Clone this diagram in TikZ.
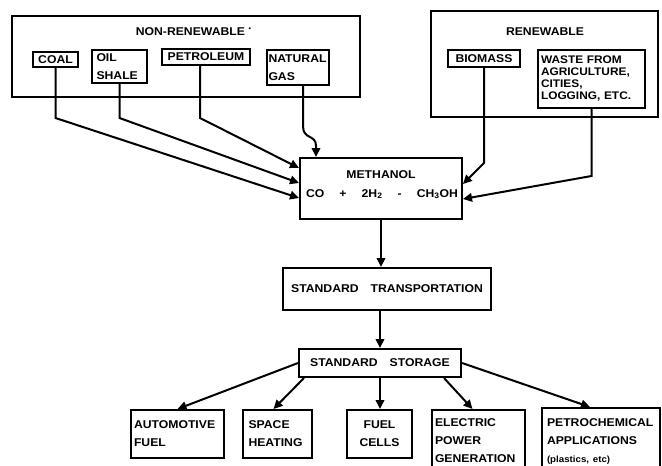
\documentclass[tikz,border=0pt]{standalone}
\usepackage{fontspec}
\setmainfont[FakeStretch=1.08]{Liberation Sans}
\usetikzlibrary{arrows.meta}
\tikzset{
  lw/.style={line width=2pt},
  txt/.style={font=\bfseries\fontsize{11.3}{18}\selectfont, inner sep=2pt},
  outer/.style={draw, line width=1.8pt},
  box/.style={draw, lw, txt},
  arr/.style={lw, -{Triangle[length=9pt,width=8.5pt]}},
}
\begin{document}
\begin{tikzpicture}[x=1pt,y=-1pt]
\clip (0,0) rectangle (662,466);
% source groups
\node[outer, minimum width=348pt, minimum height=81pt] (nonren) at (186,56.5) {};
\node[txt] (nrt) at (194,32) {NON-RENEWABLE\;\raisebox{0.5ex}{·}};
\node[outer, minimum width=227pt, minimum height=106pt] (ren) at (544.5,64) {};
\node[txt] (rent) at (545,32) {RENEWABLE};
% sources
\node[box, minimum width=45pt, minimum height=15pt] (coal) at (55.5,59.5) {COAL};
\node[box, minimum width=55pt, minimum height=33pt, text width=46pt, align=left] (oil) at (119.5,66.5) {OIL\\SHALE};
\node[box, minimum width=88pt, minimum height=16pt] (pet) at (206,57) {PETROLEUM};
\node[box, minimum width=61pt, minimum height=35pt, text width=58pt, align=left] (ng) at (297.5,67.5) {NATURAL\\GAS};
\node[box, minimum width=72pt, minimum height=17pt] (bio) at (484,58.5) {BIOMASS};
\node[box, minimum width=107pt, minimum height=58pt, text width=101pt, align=left,
      font=\bfseries\fontsize{11}{12}\selectfont] (waste) at (591.5,79) {WASTE FROM\\AGRICULTURE,\\CITIES,\\LOGGING, ETC.};
% methanol
\node[box, minimum width=162pt, minimum height=61pt] (meth) at (381,188.5) {};
\node[txt] (metht) at (381,175) {METHANOL};
\node[txt] (eq) at (382,194) {\makebox[152pt]{CO\hfill+\hfill2H\textsubscript{2}\hfill-\hfill CH\textsubscript{3}OH}};
% chain
\node[box, minimum width=208pt, minimum height=42pt] (trans) at (387,289) {STANDARD\hspace{12pt}TRANSPORTATION};
\node[box, minimum width=162pt, minimum height=28pt] (stor) at (380,363) {STANDARD\hspace{12pt}STORAGE};
% uses
\node[box, minimum width=93pt, minimum height=48pt, text width=87pt, align=left] (auto) at (177.5,434) {AUTOMOTIVE\\FUEL};
\node[box, minimum width=69pt, minimum height=48pt, text width=58pt, align=left] (space) at (277.5,434) {SPACE\\HEATING};
\node[box, minimum width=65pt, minimum height=48pt, align=center] (fuel) at (379.5,434) {FUEL\\CELLS};
\node[box, minimum width=93pt, minimum height=62pt, text width=87pt, align=left] (elec) at (478.5,441) {ELECTRIC\\POWER\\GENERATION};
\node[box, minimum width=118pt, minimum height=66pt, text width=108pt, align=left] (petro) at (601,441) {PETROCHEMICAL\\APPLICATIONS\\{\fontsize{9}{18}\selectfont (plastics, etc)}};
% connectors into methanol
\coordinate (petb) at ([xshift=-6pt]pet.south);
\coordinate (ngb) at ([xshift=5.5pt]ng.south);
\draw[arr] (coal.south) -- (coal.south |- 0,118) -- (meth.west |- 0,198);
\draw[arr] (oil.south) -- (oil.south |- 0,118) -- (meth.west |- 0,183);
\draw[arr] (petb) -- (petb |- 0,118) -- (meth.west |- 0,168);
\draw[arr] (ngb) -- (ngb |- 0,126) .. controls (ngb |- 0,140) and (316,134) .. (316,146) -- (meth.north -| 316,0);
\draw[arr] (bio.south) -- (bio.south |- 0,163) -- (meth.east |- 0,184);
\draw[arr] (waste.south) -- (waste.south |- 0,176) -- (meth.east |- 0,199);
% chain connectors
\draw[arr] (meth.south) -- (meth.south |- trans.north);
\draw[arr] (stor.north |- trans.south) -- (stor.north);
% outputs
\draw[arr] (stor.west) -- (auto.north);
\draw[arr] ([xshift=6pt]stor.south west) -- ([xshift=-4pt]space.north);
\draw[arr] (stor.south) -- (stor.south |- fuel.north);
\draw[arr] ([xshift=-18pt]stor.south east) -- ([xshift=-6pt]elec.north);
\draw[arr] (stor.east) -- ([xshift=-11pt]petro.north);
\end{tikzpicture}
\end{document}
